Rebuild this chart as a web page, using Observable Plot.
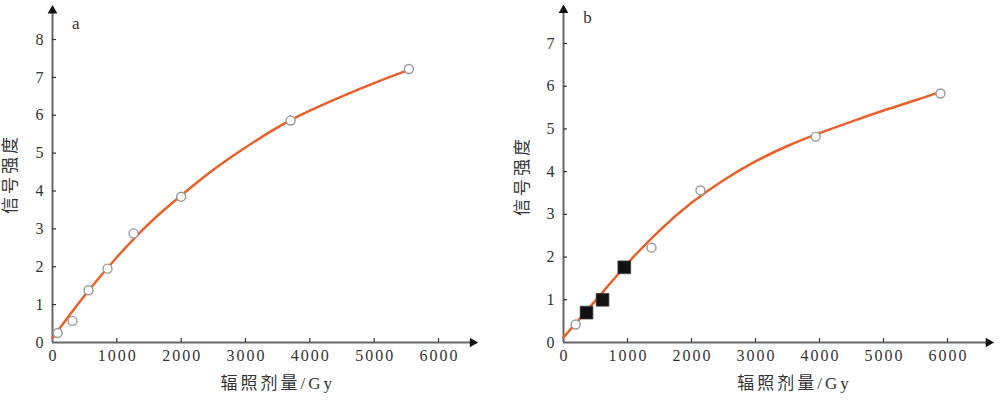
<!DOCTYPE html>
<html>
<head>
<meta charset="utf-8">
<script src="https://cdn.jsdelivr.net/npm/d3@7"></script>
<script src="https://cdn.jsdelivr.net/npm/@observablehq/plot@0.6"></script>
<style>
  html, body { margin: 0; padding: 0; background: #fff; }
  #wrap { display: flex; width: 1000px; height: 401px; }
  #wrap svg { overflow: visible; }
  #wrap svg text { font-family: 'Liberation Serif', 'Noto Sans CJK SC', serif; }
  #wrap svg g[aria-label="x-axis tick label"] text { letter-spacing: 2px; }
  #wrap svg g.ttl text { letter-spacing: 3px; }
</style>
</head>
<body>
<div id="wrap"></div>
<script>
// ---------- data ----------
const xLabel = "辐照剂量/Gy";
const yLabel = "信号强度";
const xTicks = [0, 1000, 2000, 3000, 4000, 5000, 6000];

// Panel a
const aPointsX = [80, 311, 560, 855, 1260, 2000, 3700, 5540];
const aPointsY = [0.25, 0.57, 1.38, 1.95, 2.88, 3.85, 5.86, 7.22];
const aCurveX = [0, 500, 1000, 1500, 2000, 2500, 3000, 3500, 4000, 4500, 5000, 5540];
const aCurveY = [0.12, 1.24, 2.25, 3.14, 3.88, 4.56, 5.15, 5.68, 6.12, 6.50, 6.85, 7.20];
const aYTicks = [0, 1, 2, 3, 4, 5, 6, 7, 8];

// Panel b
const bOpenX = [190, 1375, 2140, 3940, 5890];
const bOpenY = [0.42, 2.22, 3.56, 4.82, 5.83];
const bSquareX = [360, 610, 950];
const bSquareY = [0.70, 1.00, 1.76];
const bCurveX = [0, 500, 1000, 1500, 2000, 2500, 3000, 3500, 4000, 4500, 5000, 5500, 5850];
const bCurveY = [0.12, 0.98, 1.85, 2.62, 3.27, 3.80, 4.24, 4.60, 4.90, 5.17, 5.43, 5.67, 5.85];
const bYTicks = [0, 1, 2, 3, 4, 5, 6, 7];

// ---------- drawing ----------
const orange = "#e8602a";
const axisCol = "#666";

function panel({letter, yTicks, yMax, yArrow, xArrow, curveX, curveY, open, squares,
                marginLeft, marginRight, marginTop, yLabelY, letterX, letterY, yLabelX, xLabelX}) {
  const curve = curveX.map((x, i) => ({x, y: curveY[i]}));
  const xt = xTicks.filter(d => d > 0);
  const yt = yTicks.filter(d => d > 0);
  const xPerPx = 1000 / 64;
  const yPerPx = yMax / (342 - marginTop);
  return Plot.plot({
    width: 500,
    height: 401,
    marginLeft, marginRight, marginTop, marginBottom: 59,
    x: {domain: [0, 6000]},
    y: {domain: [0, yMax]},
    style: {background: "white", overflow: "visible"},
    marks: [
      // axes lines
      Plot.ruleY([0], {x1: 0, x2: xArrow, stroke: axisCol, strokeWidth: 2}),
      Plot.ruleX([0], {y1: 0, y2: yArrow, stroke: axisCol, strokeWidth: 2}),
      Plot.dot([[xArrow, 0]], {x: d => d[0], y: d => d[1], symbol: "triangle", rotate: 90, r: 3.6, fill: "#111", stroke: "none"}),
      Plot.dot([[0, yArrow]], {x: d => d[0], y: d => d[1], symbol: "triangle", r: 3.6, fill: "#111", stroke: "none"}),
      // inward ticks
      Plot.ruleX(xt, {x: d => d, y1: 0, y2: 4 * yPerPx, stroke: "#333", strokeWidth: 1.2}),
      Plot.ruleY(yt, {y: d => d, x1: 0, x2: 4 * xPerPx, stroke: "#333", strokeWidth: 1.2}),
      // tick labels
      Plot.axisX(xTicks, {tickSize: 0, tickPadding: 7, fontSize: 16, fill: "#333", label: null, tickFormat: d3.format("d"), dx: 1}),
      Plot.axisY(yTicks, {tickSize: 0, tickPadding: 9, fontSize: 16, fill: "#333", label: null, tickFormat: d3.format("d")}),
      // axis titles
      Plot.text([xLabel], {x: xLabelX, y: 0, dy: 41, text: d => d, fontSize: 17, fill: "#333", className: "ttl"}),
      Plot.text([yLabel], {x: yLabelX, y: yLabelY, text: d => d, rotate: -90, fontSize: 17, fill: "#333", className: "ttl"}),
      Plot.text([letter], {x: letterX, y: letterY, text: d => d, fontSize: 17, fill: "#333"}),
      // curve
      Plot.line(curve, {x: "x", y: "y", curve: "natural", stroke: orange, strokeWidth: 2.5}),
      // points
      Plot.dot(open.x.map((x, i) => ({x, y: open.y[i]})), {x: "x", y: "y", r: 4.5, stroke: "#999", strokeWidth: 1.4, fill: "white"}),
      ...(squares ? [Plot.dot(squares.x.map((x, i) => ({x, y: squares.y[i]})), {x: "x", y: "y", symbol: "square", r: 7.2, fill: "#111", stroke: "#444", strokeWidth: 0.8})] : [])
    ]
  });
}

const wrap = document.getElementById("wrap");
wrap.appendChild(panel({
  letter: "a", yTicks: aYTicks, yMax: 8, yArrow: 8.76, xArrow: 6530,
  curveX: aCurveX, curveY: aCurveY,
  open: {x: aPointsX, y: aPointsY}, squares: null,
  marginLeft: 52, marginRight: 62, marginTop: 39,
  yLabelY: 4.45, yLabelX: -650, letterX: 360, letterY: 8.42, xLabelX: 3500
}));
wrap.appendChild(panel({
  letter: "b", yTicks: bYTicks, yMax: 7, yArrow: 7.78, xArrow: 6640,
  curveX: bCurveX, curveY: bCurveY,
  open: {x: bOpenX, y: bOpenY}, squares: {x: bSquareX, y: bSquareY},
  marginLeft: 63, marginRight: 53, marginTop: 43,
  yLabelY: 3.9, yLabelX: -640, letterX: 375, letterY: 7.61, xLabelX: 3610
}));
</script>
</body>
</html>
